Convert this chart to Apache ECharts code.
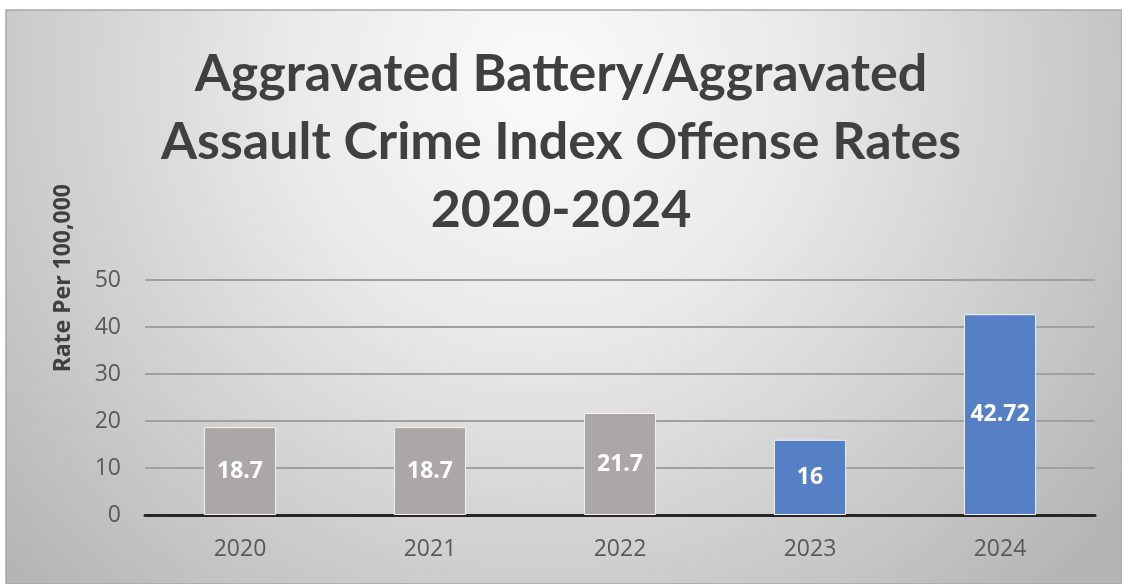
<!DOCTYPE html>
<html><head><meta charset="utf-8">
<script src="https://cdn.jsdelivr.net/npm/echarts@6/dist/echarts.min.js"></script>
<style>html,body{margin:0;padding:0;background:#fff}#c{width:1122px;height:584px}</style>
</head><body><div id="c"></div>
<script>
const titleText = 'Aggravated Battery/Aggravated\nAssault Crime Index Offense Rates\n2020-2024';
const yAxisTitle = 'Rate Per 100,000';
const categories = ['2020', '2021', '2022', '2023', '2024'];
const values = [18.7, 18.7, 21.7, 16, 42.72];
const labels = ['18.7', '18.7', '21.7', '16', '42.72'];
const barColors = ['#aba7a6', '#aba7a6', '#aba7a6', '#5580c6', '#5580c6'];
const yTicks = [0, 10, 20, 30, 40, 50];

const chart = echarts.init(document.getElementById('c'));
chart.setOption({
  backgroundColor: '#ffffff',
  animation: false,
  graphic: [
    { type: 'rect', z: -10, shape: { x: 6, y: 10, width: 1116, height: 574 },
      style: { fill: { type: 'radial', x: 0.48, y: 0.12, r: 1.25,
        colorStops: [{ offset: 0, color: '#fbfbfb' }, { offset: 0.35, color: '#eaeaea' }, { offset: 1, color: '#b5b5b5' }] },
        stroke: '#a8a8a8', lineWidth: 1.5 } },
    { type: 'text', left: 52, top: 184, rotation: Math.PI / 2,
      style: { text: yAxisTitle, fill: '#404040', font: 'bold 23px "Noto Sans"' } }
  ],
  title: {
    text: titleText, left: 'center', top: 35,
    textStyle: { fontFamily: 'Lato', fontWeight: 'bold', fontSize: 52, color: '#404040', lineHeight: 68 }
  },
  grid: { left: 145, right: 27, top: 280, bottom: 69, containLabel: false },
  xAxis: {
    type: 'category', data: categories,
    axisLine: { lineStyle: { color: '#262626', width: 3 } },
    axisTick: { show: false },
    axisLabel: { color: '#595959', fontSize: 23, fontFamily: 'Open Sans', margin: 23 }
  },
  yAxis: {
    type: 'value', min: yTicks[0], max: yTicks[yTicks.length - 1], interval: 10,
    axisLine: { show: false }, axisTick: { show: false },
    axisLabel: { color: '#595959', fontSize: 23, fontFamily: 'Open Sans', margin: 24 },
    splitLine: { lineStyle: { color: '#a0a0a0', width: 2 } }
  },
  series: [{
    type: 'bar', barWidth: '38%',
    data: values.map((v, i) => ({ value: v, itemStyle: { color: barColors[i] } })),
    itemStyle: { borderColor: '#f4f4f4', borderWidth: 1 },
    label: { show: true, position: 'inside', color: '#ffffff', fontWeight: 'bold', fontSize: 23,
      fontFamily: 'Open Sans', formatter: p => labels[p.dataIndex] }
  }]
});
</script></body></html>
